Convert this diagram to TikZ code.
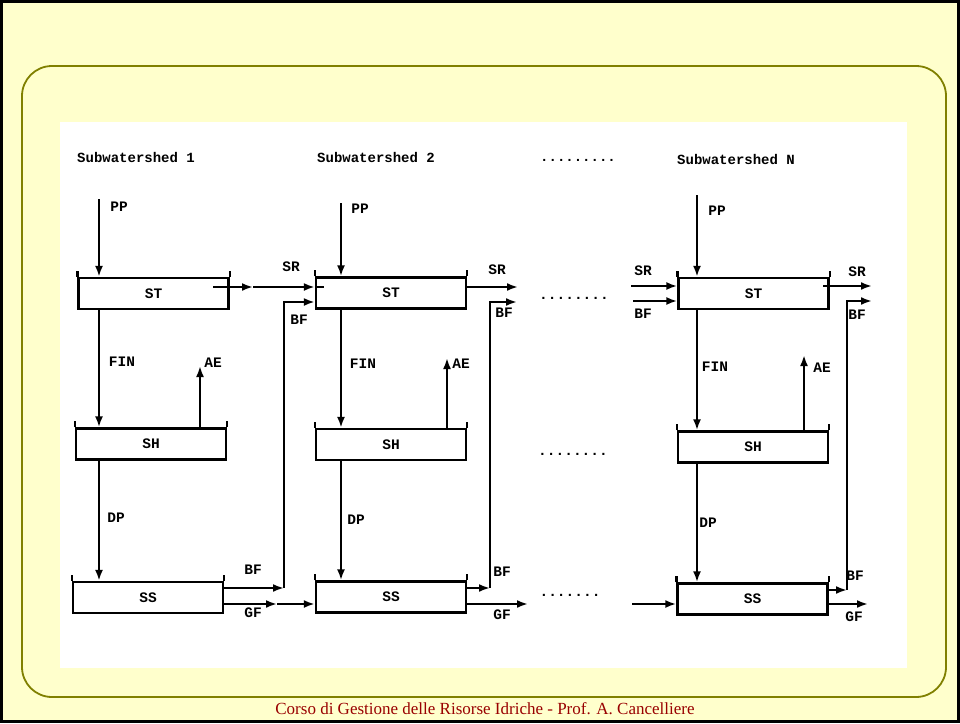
\documentclass[tikz,border=0pt]{standalone}
\usepackage{fontspec}
\setmainfont{Liberation Serif}
\setmonofont{Liberation Mono}
\usetikzlibrary{arrows.meta}
\definecolor{bgyellow}{HTML}{FFFFCC}
\definecolor{frameolive}{HTML}{808000}
\definecolor{footred}{HTML}{990000}
\begin{document}
\begin{tikzpicture}[x=1pt,y=-1pt,
  txt/.style={font=\ttfamily\bfseries\fontsize{14.5}{14.5}\selectfont, inner sep=0},
  hdr/.style={font=\ttfamily\bfseries\fontsize{14}{14}\selectfont, inner sep=0, anchor=west},
  tank/.style={draw, line width=2.3pt, minimum width=150pt, minimum height=31pt, inner sep=0,
    font=\ttfamily\bfseries\fontsize{14.5}{14.5}\selectfont},
  tankline/.style={line width=2.3pt},
  flow/.style={line width=2.3pt},
  arr/.style={flow, -{Latex[length=11pt,width=8pt]}},
]
\useasboundingbox (0,0) rectangle (960,723);
\fill[bgyellow] (0,0) rectangle (960,723);
\draw[line width=3pt] (1.5,1.5) rectangle (958.5,721.5);
\draw[frameolive, line width=1.8pt, rounded corners=30pt] (22,66) rectangle (946,697);
\fill[white] (60,122) rectangle (907,668);
\node[font=\fontsize{17}{17}\selectfont, text=footred, inner sep=0] (foot) at (485,709) {Corso di Gestione delle Risorse Idriche - Prof. A. Cancelliere};

% headers
\node[hdr] (h1) at (77,157) {Subwatershed 1};
\node[hdr] (h2) at (317,157) {Subwatershed 2};
\node[hdr] (hd) at (540,160) {.........};
\node[hdr] (hN) at (677,159) {Subwatershed N};

% tanks
\node[tank] (st1) at (153.5,293.5) {ST};
\node[tank] (sh1) at (151,444) {SH};
\node[tank] (ss1) at (148,597.5) {SS};
\node[tank] (st2) at (391,293) {ST};
\node[tank] (sh2) at (391,444.5) {SH};
\node[tank] (ss2) at (391,597) {SS};
\node[tank] (stN) at (753.5,293.5) {ST};
\node[tank] (shN) at (753,447) {SH};
\node[tank] (ssN) at (752.5,599) {SS};
\foreach \n in {st1,sh1,ss1,st2,sh2,ss2,stN,shN,ssN}
  \draw[tankline] (\n.north west) -- ++(0pt,6pt) (\n.north east) -- ++(0pt,6pt);

% axis coordinates
\coordinate (ax1) at (99,199);
\coordinate (ax2) at (341,203);
\coordinate (axN) at (697,195);

% column 1
\draw[arr] (ax1) -- (ax1 |- st1.north);
\draw[arr] (ax1 |- st1.south) -- (ax1 |- sh1.north);
\draw[arr] (ax1 |- sh1.south) -- (ax1 |- ss1.north);
\coordinate (ae1) at (200,366);
\draw[arr] (ae1 |- sh1.north) -- (ae1);
\coordinate (sr1s) at (213,287);
\coordinate (sr1m) at (253,287);
\draw[arr] (sr1s) -- (sr1m);
\draw[arr] (sr1m) -- (st2.west |- sr1s);
\draw[flow] (st2.west |- sr1s) -- ++(9,0);
\coordinate (bf1low) at (284,588);
\coordinate (bf1up) at (284,302);
\draw[arr] (ss1.east |- bf1low) -- (bf1low);
\draw[arr] (bf1low) |- (st2.west |- bf1up);
\coordinate (gf1m) at (277,604);
\draw[arr] (ss1.east |- gf1m) -- (gf1m);
\draw[arr] (gf1m) -- (ss2.west |- gf1m);

% column 2
\draw[arr] (ax2) -- (ax2 |- st2.north);
\draw[arr] (ax2 |- st2.south) -- (ax2 |- sh2.north);
\draw[arr] (ax2 |- sh2.south) -- (ax2 |- ss2.north);
\coordinate (ae2) at (447,358);
\draw[arr] (ae2 |- sh2.north) -- (ae2);
\coordinate (sr2e) at (518,287);
\draw[arr] (st2.east |- sr2e) -- (sr2e);
\coordinate (bf2low) at (490,588);
\coordinate (bf2e) at (517,302);
\draw[arr] (ss2.east |- bf2low) -- (bf2low);
\draw[arr] (bf2low) |- (bf2e);
\coordinate (gf2e) at (528,604);
\draw[arr] (ss2.east |- gf2e) -- (gf2e);

% column N
\draw[arr] (axN) -- (axN |- stN.north);
\draw[arr] (axN |- stN.south) -- (axN |- shN.north);
\draw[arr] (axN |- shN.south) -- (axN |- ssN.north);
\coordinate (aeN) at (804,355);
\draw[arr] (aeN |- shN.north) -- (aeN);
\coordinate (srNs) at (631,286);
\draw[arr] (srNs) -- (stN.west |- srNs);
\coordinate (bfNs) at (633,301);
\draw[arr] (bfNs) -- (stN.west |- bfNs);
\coordinate (ssNs) at (632,604);
\draw[arr] (ssNs) -- (ssN.west |- ssNs);
\coordinate (srNo) at (823,286);
\coordinate (srNe) at (872,286);
\draw[arr] (srNo) -- (srNe);
\coordinate (bfNlow) at (847,590);
\coordinate (bfNe) at (872,301);
\draw[arr] (ssN.east |- bfNlow) -- (bfNlow);
\draw[arr] (bfNlow) |- (bfNe);
\coordinate (gfNe) at (868,604);
\draw[arr] (ssN.east |- gfNe) -- (gfNe);

% labels
\node[txt] (lpp1) at (119,207) {PP};
\node[txt] (lsr1) at (291,267) {SR};
\node[txt] (lbf1u) at (299,320) {BF};
\node[txt] (lfin1) at (122,362) {FIN};
\node[txt] (lae1) at (213,363) {AE};
\node[txt] (ldp1) at (116,518) {DP};
\node[txt] (lbf1l) at (253,570) {BF};
\node[txt] (lgf1) at (253,613) {GF};
\node[txt] (lpp2) at (360,209) {PP};
\node[txt] (lsr2) at (497,270) {SR};
\node[txt] (lbf2u) at (504,313) {BF};
\node[txt] (lfin2) at (363,364) {FIN};
\node[txt] (lae2) at (461,364) {AE};
\node[txt] (ldp2) at (356,520) {DP};
\node[txt] (lbf2l) at (502,572) {BF};
\node[txt] (lgf2) at (502,615) {GF};
\node[txt] (lppN) at (717,211) {PP};
\node[txt] (lsrNi) at (643,271) {SR};
\node[txt] (lbfNi) at (643,314) {BF};
\node[txt] (lsrNo) at (857,272) {SR};
\node[txt] (lbfNo) at (857,315) {BF};
\node[txt] (lfinN) at (715,367) {FIN};
\node[txt] (laeN) at (822,368) {AE};
\node[txt] (ldpN) at (708,523) {DP};
\node[txt] (lbfNl) at (855,576) {BF};
\node[txt] (lgfN) at (854,617) {GF};

% dots
\node[txt] (d1) at (574,298) {........};
\node[txt] (d2) at (573,454) {........};
\node[txt] (d3) at (570,595) {.......};
\end{tikzpicture}
\end{document}
